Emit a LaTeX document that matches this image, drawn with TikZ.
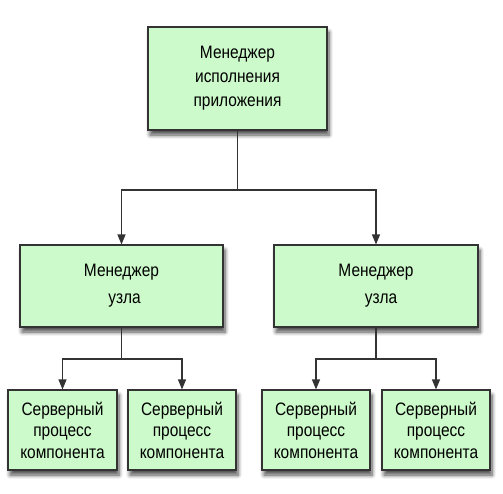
\documentclass[tikz,border=0pt]{standalone}
\usepackage{fontspec}
\setmainfont{Liberation Sans}[FakeStretch=0.86]
\usetikzlibrary{arrows.meta,shadows.blur}
\definecolor{boxfill}{HTML}{CCFACA}
\definecolor{boxline}{HTML}{333333}
\tikzset{
  box/.style={draw=boxline, line width=1.1pt, fill=boxfill, inner sep=0pt,
    align=center, font=\fontsize{18}{23}\selectfont,
    blur shadow={shadow xshift=2pt, shadow yshift=-5pt, shadow blur steps=6, shadow opacity=70, shadow blur radius=4pt}},
  arr/.style={draw=boxline, line width=1.2pt, -{Triangle[length=10pt,width=8pt]}},
  ln/.style={draw=boxline, line width=1.2pt}
}
\begin{document}
\begin{tikzpicture}[x=1pt,y=-1pt]
\useasboundingbox (0,0) rectangle (503,493);
\node[box, minimum width=179pt, minimum height=103pt, font=\fontsize{18}{24}\selectfont] (top) at (237.5,78.5) {Менеджер\\исполнения\\приложения};
\node[box, minimum width=203pt, minimum height=82pt, font=\fontsize{18}{27}\selectfont] (midL) at (121.5,286) {Менеджер\\\hspace*{6pt}узла};
\node[box, minimum width=204pt, minimum height=82pt, font=\fontsize{18}{27}\selectfont] (midR) at (376,286) {Менеджер\\\hspace*{10pt}узла};
\node[box, minimum width=109pt, minimum height=80pt, font=\fontsize{18}{21.5}\selectfont] (b1) at (62.5,430) {Серверный\\процесс\\компонента};
\node[box, minimum width=108pt, minimum height=80pt, font=\fontsize{18}{21.5}\selectfont] (b2) at (182,430) {Серверный\\процесс\\компонента};
\node[box, minimum width=108pt, minimum height=80pt, font=\fontsize{18}{21.5}\selectfont] (b3) at (316,430) {Серверный\\процесс\\компонента};
\node[box, minimum width=108pt, minimum height=80pt, font=\fontsize{18}{21.5}\selectfont] (b4) at (436,430) {Серверный\\процесс\\компонента};
\coordinate (j0) at (237.5,190);
\coordinate (jL) at (121.5,359);
\coordinate (jR) at (376,359);
\draw[ln] (top.south) -- (j0);
\draw[arr] (j0) -| (midL.north);
\draw[arr] (j0) -| (midR.north);
\draw[ln] (midL.south) -- (jL);
\draw[arr] (jL) -| (b1.north);
\draw[arr] (jL) -| (b2.north);
\draw[ln] (midR.south) -- (jR);
\draw[arr] (jR) -| (b3.north);
\draw[arr] (jR) -| (b4.north);
\end{tikzpicture}
\end{document}
